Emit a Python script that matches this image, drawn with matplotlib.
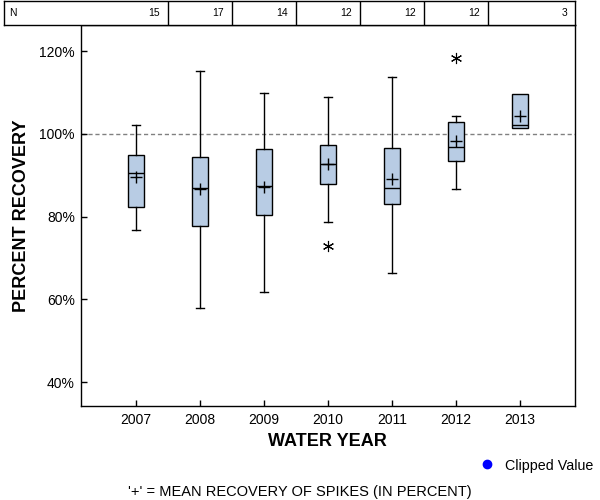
import matplotlib.pyplot as plt
from matplotlib.lines import Line2D

plt.rcParams['font.family'] = ['Liberation Sans', 'DejaVu Sans']

# data (percent recovery)
years = [2007, 2008, 2009, 2010, 2011, 2012, 2013]
n_samples = [15, 17, 14, 12, 12, 12, 3]
whis_lo = [76.7, 57.9, 61.7, 78.7, 66.3, 86.6, 101.4]
q1 = [82.3, 77.7, 80.4, 87.8, 83.0, 93.4, 101.4]
median = [90.5, 86.9, 87.4, 92.7, 87.0, 96.8, 102.1]
q3 = [94.9, 94.4, 96.3, 97.3, 96.5, 102.8, 109.6]
whis_hi = [102.1, 115.2, 109.8, 108.9, 113.7, 104.4, 109.6]
means = [89.6, 86.6, 87.2, 92.6, 89.0, 98.2, 104.3]
outliers = [[], [], [], [72.8], [], [118.4], []]

W, H = 600, 500
fig = plt.figure(figsize=(6, 5), dpi=100)

# main plot area in pixels
px_l, px_r, px_t, px_b = 80.5, 575, 25, 406
ax = fig.add_axes([px_l / W, 1 - px_b / H, (px_r - px_l) / W, (px_b - px_t) / H])

# pixel -> year mapping: 2006 at 72 px, 64 px per year
def px2yr(p):
    return 2006 + (p - 72) / 64.0

ax.set_xlim(px2yr(px_l), px2yr(px_r))
ax.set_ylim(34.2, 126.3)

stats = []
for i in range(len(years)):
    stats.append({'whislo': whis_lo[i], 'q1': q1[i], 'med': median[i], 'q3': q3[i],
                  'whishi': whis_hi[i], 'mean': means[i], 'fliers': outliers[i]})

bp = ax.bxp(stats, positions=years, widths=0.235, patch_artist=True, showmeans=True,
            manage_ticks=False,
            boxprops=dict(facecolor='#b8cce4', edgecolor='black', linewidth=1.0),
            medianprops=dict(color='black', linewidth=1.0),
            whiskerprops=dict(color='black', linewidth=1.0),
            capprops=dict(color='black', linewidth=1.0),
            capwidths=0.11,
            meanprops=dict(marker='+', markeredgecolor='black', markersize=8, markeredgewidth=1.0),
            flierprops=dict(marker=(6, 2, 0), markeredgecolor='black', markersize=8, markeredgewidth=0.8))

# 2013 has only 3 samples: no whiskers
for ln in bp['caps'][12:14] + bp['whiskers'][12:14]:
    ln.set_visible(False)

ax.axhline(100, color='#808080', linestyle=(0, (3, 2)), linewidth=1.0, zorder=0)

ax.set_xticks(years)
ax.set_xticklabels([str(y) for y in years])
ax.set_yticks([40, 60, 80, 100, 120])
ax.set_yticklabels(['40%', '60%', '80%', '100%', '120%'])
ax.tick_params(direction='in', length=4, width=1, labelsize=10, pad=4)
ax.tick_params(axis='x', pad=5)
for s in ax.spines.values():
    s.set_linewidth(1.0)

ax.set_xlabel('WATER YEAR', fontsize=13, fontweight='bold')
ax.xaxis.set_label_coords(0.5, (px_b - 441) / (px_b - px_t))
ax.xaxis.label.set_va('center')
ax.set_ylabel('PERCENT RECOVERY', fontsize=13, fontweight='bold')
ax.yaxis.set_label_coords((22 - px_l) / (px_r - px_l), 0.5)
ax.yaxis.label.set_va('center')

# N table above the plot
tb_l, tb_t = 4, 1
tab = fig.add_axes([tb_l / W, 1 - px_t / H, (px_r - tb_l) / W, (px_t - tb_t) / H])
tab.set_xlim(px2yr(tb_l), px2yr(px_r))
tab.set_ylim(0, 1)
tab.set_xticks([])
tab.set_yticks([])
for s in tab.spines.values():
    s.set_linewidth(1.0)
for y in years[:-1]:
    tab.axvline(y + 0.5, color='black', linewidth=1.0)
tab.text(px2yr(9), 0.5, 'N', fontsize=7.5, ha='left', va='center')
for i, y in enumerate(years):
    right = y + 0.5 if i < len(years) - 1 else px2yr(px_r)
    tab.text(right - 0.12, 0.5, str(n_samples[i]), fontsize=7.5, ha='right', va='center')

# legend and footnote
fig.add_artist(Line2D([487 / W], [1 - 464 / H], marker='o', color='blue', markersize=6,
                      linestyle='none', transform=fig.transFigure))
fig.text(505 / W, 1 - 466 / H, 'Clipped Value', fontsize=10.3, ha='left', va='center')
fig.text(300 / W, 1 - 492 / H, "'+' = MEAN RECOVERY OF SPIKES (IN PERCENT)", fontsize=10.5,
         ha='center', va='center')

fig.savefig('out.png', dpi=100)
